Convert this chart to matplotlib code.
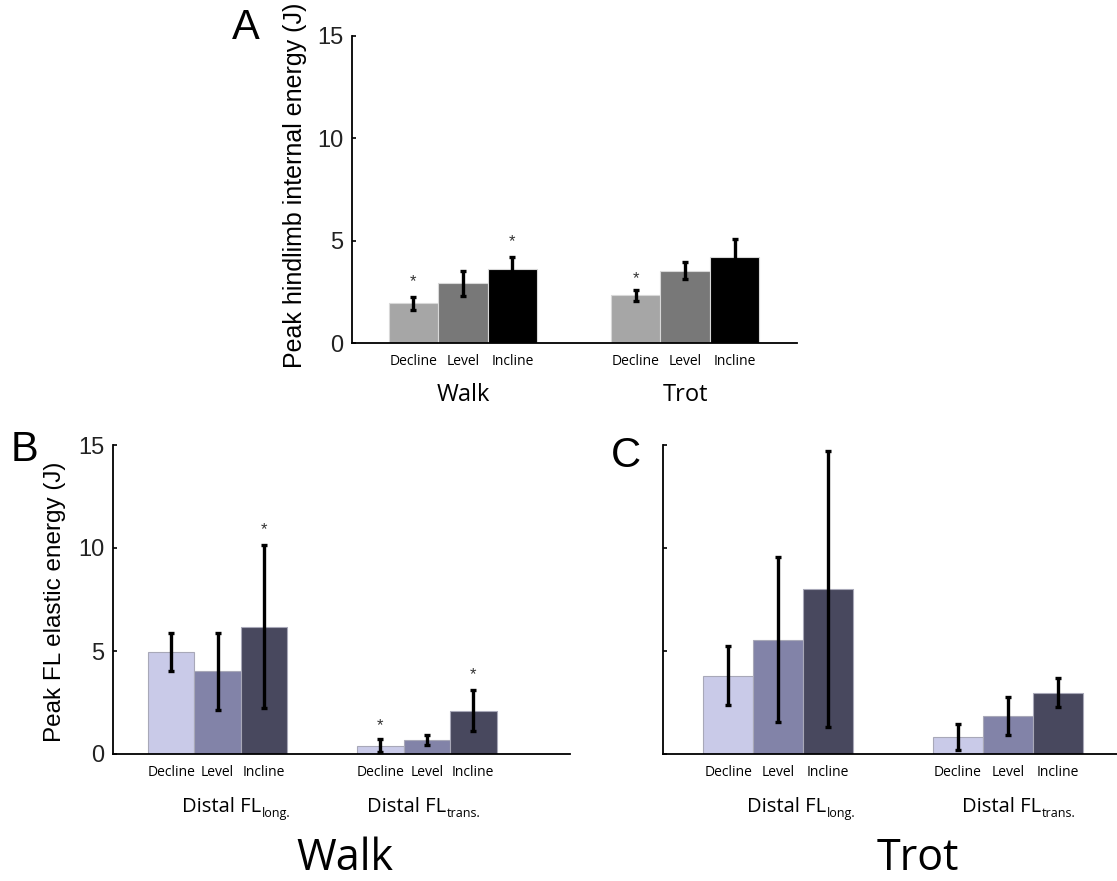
import matplotlib
matplotlib.use("Agg")
import matplotlib.pyplot as plt
import matplotlib.transforms as mtransforms
from matplotlib.text import Annotation

# ---------------- data ----------------
conditions = ["Decline", "Level", "Incline"]
gaits = ["Walk", "Trot"]
regions = ["long.", "trans."]

# Panel A: peak hindlimb internal energy (J)
a_walk = [1.94, 2.92, 3.60]
a_walk_err = [0.33, 0.60, 0.62]
a_trot = [2.33, 3.53, 4.19]
a_trot_err = [0.27, 0.42, 0.89]
a_walk_star = [3.0, None, 4.95]
a_trot_star = [3.16, None, None]

# Panel B: walk, peak FL elastic energy (J)
b_long = [4.95, 4.01, 6.17]
b_long_err = [0.93, 1.85, 3.96]
b_trans = [0.40, 0.69, 2.10]
b_trans_err = [0.32, 0.23, 1.00]
b_long_star = [None, None, 10.9]
b_trans_star = [1.37, None, 3.83]

# Panel C: trot, peak FL elastic energy (J)
c_long = [3.80, 5.55, 8.01]
c_long_err = [1.42, 4.00, 6.70]
c_trans = [0.82, 1.83, 2.98]
c_trans_err = [0.63, 0.93, 0.70]

yticks = [0, 5, 10, 15]

grey_colors = ["#a6a6a6", "#787878", "#000000"]
blue_colors = ["#c9cae8", "#8283a8", "#48485e"]

W, H = 1117, 881
fig = plt.figure(figsize=(W / 100, H / 100), dpi=100)

NUM_FONT = "Liberation Sans"
LAB_FONT = "Open Sans"


def px_axes(l, r, b, t):
    return fig.add_axes([l / W, 1 - b / H, (r - l) / W, (b - t) / H])


def style_axes(ax, show_labels=True):
    ax.set_ylim(0, 15)
    ax.spines["top"].set_visible(False)
    ax.spines["right"].set_visible(False)
    ax.spines["left"].set_linewidth(1.3)
    ax.spines["bottom"].set_linewidth(1.3)
    ax.set_yticks(yticks)
    ax.tick_params(axis="y", direction="in", length=3, width=1.2, pad=6,
                   labelsize=17, labelcolor="#222222")
    if not show_labels:
        ax.set_yticklabels([])
    else:
        for lab in ax.get_yticklabels():
            lab.set_fontfamily(NUM_FONT)
    ax.tick_params(axis="x", length=0, pad=8, labelsize=10)


def draw_group(ax, center, vals, errs, colors, width, edge, stars=None):
    xs = [center - width, center, center + width]
    ax.bar(xs, vals, width=width, color=colors, edgecolor=edge,
           linewidth=0.8, zorder=2)
    ax.errorbar(xs, vals, yerr=errs, fmt="none", ecolor="black",
                elinewidth=2.4, capsize=2.0, capthick=2.4, zorder=3)
    if stars:
        for x, s in zip(xs, stars):
            if s is not None:
                ax.text(x, s, "*", ha="center", va="center", fontsize=12,
                        color="#333333", fontfamily=NUM_FONT, zorder=4)
    return xs


def region_label(xpx, reg):
    t = fig.text(xpx / W, 1 - 811.5 / H, "Distal FL", ha="left", va="baseline",
                 fontsize=14.5, fontfamily=LAB_FONT)
    fig.add_artist(Annotation(
        reg, xy=(1, 0), xycoords=t, xytext=(0.3, -0.5), textcoords="offset points",
        ha="left", va="baseline", fontsize=9, fontfamily=LAB_FONT))


# ---------------- Panel A ----------------
axA = px_axes(352, 797, 343, 36)
style_axes(axA)
axA.set_xlim(-2.24, 6.75)
gA = [0.0, 4.49]
xs1 = draw_group(axA, gA[0], a_walk, a_walk_err, grey_colors, 1.0, "#d8d8d8", a_walk_star)
xs2 = draw_group(axA, gA[1], a_trot, a_trot_err, grey_colors, 1.0, "#d8d8d8", a_trot_star)
axA.set_xticks(xs1 + xs2)
axA.set_xticklabels(conditions * 2, fontfamily=LAB_FONT)
trA = mtransforms.blended_transform_factory(axA.transData, axA.transAxes)
for g, name in zip(gA, gaits):
    axA.text(g, -0.17, name, transform=trA, ha="center", va="center",
             fontsize=17, fontfamily=LAB_FONT)
fig.text(295 / W, 1 - 185 / H, "Peak hindlimb internal energy (J)", rotation=90,
         ha="center", va="center", fontsize=18, fontfamily=NUM_FONT)
fig.text(246 / W, 1 - 28 / H, "A", ha="center", va="center", fontsize=30,
         fontfamily=NUM_FONT)

# ---------------- Panel B ----------------
axB = px_axes(113, 570, 754, 445)
style_axes(axB)
axB.set_xlim(-2.25, 7.58)
gB = [0.0, 4.5]
xb1 = draw_group(axB, gB[0], b_long, b_long_err, blue_colors, 1.0, "#a8a8b8", b_long_star)
xb2 = draw_group(axB, gB[1], b_trans, b_trans_err, blue_colors, 1.0, "#a8a8b8", b_trans_star)
axB.set_xticks(xb1 + xb2)
axB.set_xticklabels(conditions * 2, fontfamily=LAB_FONT)
region_label(182, regions[0])
region_label(367, regions[1])
fig.text(55 / W, 1 - 602 / H, "Peak FL elastic energy (J)", rotation=90,
         ha="center", va="center", fontsize=17.5, fontfamily=NUM_FONT)
fig.text(24 / W, 1 - 450 / H, "B", ha="center", va="center", fontsize=30,
         fontfamily=NUM_FONT)

# ---------------- Panel C ----------------
axC = px_axes(662.5, 1117, 754, 445)
style_axes(axC, show_labels=False)
axC.set_xlim(-2.31, 6.77)
gC = [0.0, 4.59]
xc1 = draw_group(axC, gC[0], c_long, c_long_err, blue_colors, 1.0, "#a8a8b8")
xc2 = draw_group(axC, gC[1], c_trans, c_trans_err, blue_colors, 1.0, "#a8a8b8")
axC.set_xticks(xc1 + xc2)
axC.set_xticklabels(conditions * 2, fontfamily=LAB_FONT)
region_label(747, regions[0])
region_label(962, regions[1])
fig.text(626 / W, 1 - 456 / H, "C", ha="center", va="center", fontsize=30,
         fontfamily=NUM_FONT)

# big gait labels
fig.text(345 / W, 1 - 859 / H, "Walk", ha="center", va="center", fontsize=31,
         fontfamily=LAB_FONT)
fig.text(918 / W, 1 - 859 / H, "Trot", ha="center", va="center", fontsize=31,
         fontfamily=LAB_FONT)

fig.savefig("out.png", dpi=100)
